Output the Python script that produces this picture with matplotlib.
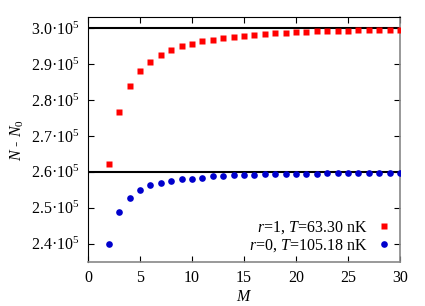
import matplotlib
matplotlib.use("Agg")
import matplotlib.pyplot as plt
from matplotlib.ticker import FixedLocator, FuncFormatter

plt.rcParams['font.family'] = ['Liberation Serif', 'DejaVu Serif']
plt.rcParams['mathtext.fontset'] = 'custom'
plt.rcParams['mathtext.rm'] = 'Liberation Serif'
plt.rcParams['mathtext.it'] = 'Liberation Serif:italic'
plt.rcParams['font.size'] = 11.5

M = list(range(2, 31))
red = [2.621, 2.768, 2.839, 2.881, 2.907, 2.926, 2.940, 2.950, 2.956, 2.963,
       2.967, 2.972, 2.975, 2.979, 2.981, 2.983, 2.986, 2.988, 2.989, 2.990,
       2.991, 2.991, 2.992, 2.993, 2.994, 2.994, 2.995, 2.995, 2.996]
blue = [2.400, 2.489, 2.528, 2.548, 2.562, 2.570, 2.575, 2.579, 2.581, 2.584,
        2.587, 2.588, 2.590, 2.591, 2.592, 2.593, 2.593, 2.594, 2.594, 2.595,
        2.595, 2.596, 2.596, 2.596, 2.597, 2.597, 2.597, 2.597, 2.597]
red = [v * 1e5 for v in red]
blue = [v * 1e5 for v in blue]
limits = [3.0e5, 2.6e5]
label_red = r'$r$=1, $T$=63.30 nK'
label_blue = r'$r$=0, $T$=105.18 nK'
yticks = [2.4e5, 2.5e5, 2.6e5, 2.7e5, 2.8e5, 2.9e5, 3.0e5]
xticks = [0, 5, 10, 15, 20, 25, 30]

fig = plt.figure(figsize=(4.25, 3.06), dpi=100)
ax = fig.add_axes([0.207, 0.144, 0.734, 0.799])

for lv in limits:
    ax.axhline(lv, color='black', lw=1.5, zorder=1)
ax.plot(M, red, ls='none', marker='s', ms=4.4, color='#ff0000', mec='none',
        label=label_red, zorder=3)
ax.plot(M, blue, ls='none', marker='o', ms=4.8, color='#0000cc', mec='none',
        label=label_blue, zorder=3)

ax.set_xlim(0, 30)
ax.set_ylim(2.349e5, 3.03e5)
ax.xaxis.set_major_locator(FixedLocator(xticks))
ax.yaxis.set_major_locator(FixedLocator(yticks))
ax.yaxis.set_major_formatter(FuncFormatter(
    lambda v, p: '%.1f\u00b710$^{5}$' % (v / 1e5)))
ax.tick_params(direction='in', top=True, right=True, length=4, width=0.8,
               labelsize=11.5, pad=6)
for side in ['left', 'top']:
    ax.spines[side].set_color('black')
for side in ['right', 'bottom']:
    ax.spines[side].set_color('#888888')
    ax.spines[side].set_linewidth(1.2)

ax.set_xlabel(r'$M$', fontsize=11.5, labelpad=2)
ax.set_ylabel(r'$N$ - $N_0$', fontsize=11.5, labelpad=4)

ax.legend(loc='lower right', frameon=False, markerfirst=False, fontsize=11.5,
          handletextpad=0.55, borderaxespad=0.1, labelspacing=0.1,
          handlelength=1.0)

fig.savefig('out.png', dpi=100)
